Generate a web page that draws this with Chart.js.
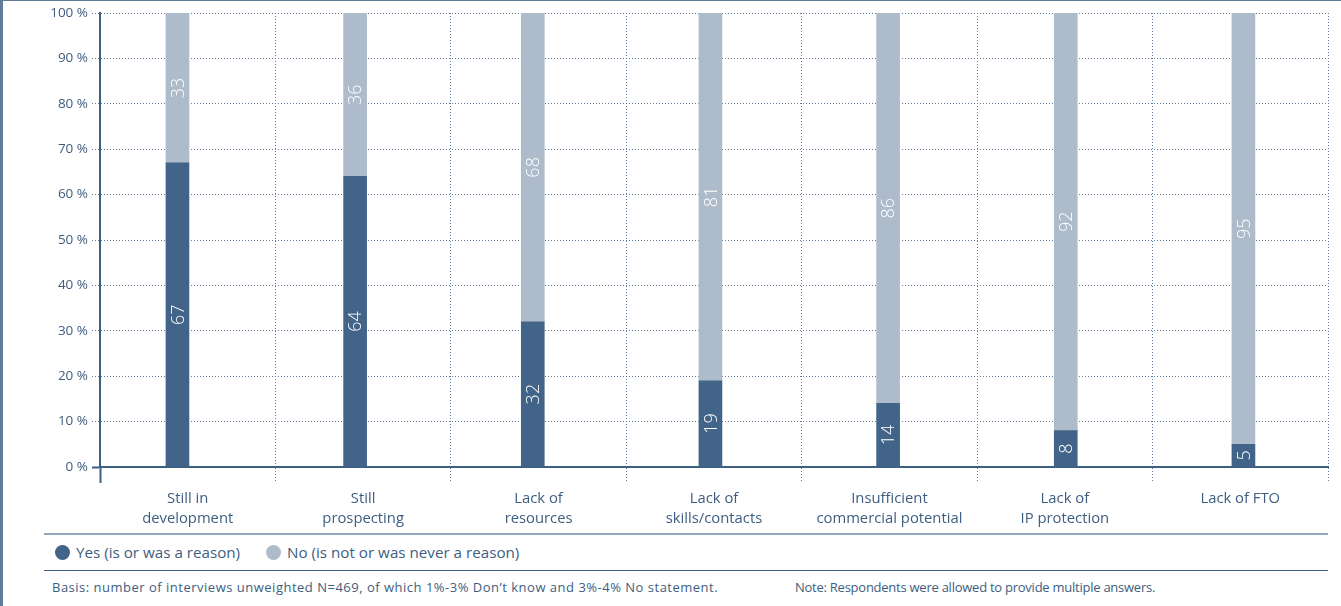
<!DOCTYPE html>
<html>
<head>
<meta charset="utf-8">
<script src="https://cdn.jsdelivr.net/npm/chart.js@4"></script>
<style>
    html, body { margin: 0; padding: 0; background: #fff; }
    #frame {
        position: relative;
        width: 1341px;
        height: 606px;
        box-sizing: border-box;
        border-top: 1px solid #5f7d9b;
        border-left: 3px solid #5f7d9b;
        font-family: 'Open Sans', Lato, sans-serif;
        color: #3e5e80;
        overflow: hidden;
    }
    #chartBox {
        position: absolute;
        left: -3px;
        top: -1px;
        width: 1341px;
        height: 530px;
    }
    #legend {
        position: absolute;
        left: 41px;
        top: 532px;
        width: 1284px;
        height: 35px;
        border-top: 2px solid #93a6ba;
        border-bottom: 1px solid #3e5e80;
        font-size: 15.2px;
    }
    .legend-item { position: absolute; top: 7px; display: flex; align-items: center; white-space: nowrap; }
    .legend-dot { width: 15px; height: 15px; border-radius: 50%; margin-right: 6px; }
    .note {
        position: absolute;
        top: 577px;
        font-size: 13px;
        white-space: nowrap;
    }
</style>
</head>
<body>
<div id="frame">
    <div id="chartBox"><canvas id="reasonsChart"></canvas></div>
    <div id="legend"></div>
    <div class="note" style="left:49px; letter-spacing:0.5px">Basis: number of interviews unweighted N=469, of which 1%-3% Don’t know and 3%-4% No statement.</div>
    <div class="note" style="left:792px; letter-spacing:-0.25px">Note: Respondents were allowed to provide multiple answers.</div>
</div>
<script>
// Reasons - shares in percent
const categories = [
    ['Still in', 'development'],
    ['Still', 'prospecting'],
    ['Lack of', 'resources'],
    ['Lack of', 'skills/contacts'],
    ['Insufficient', 'commercial potential'],
    ['Lack of', 'IP protection'],
    'Lack of FTO'
];
const yesValues = [67, 64, 32, 19, 14, 8, 5];
const noValues = [33, 36, 68, 81, 86, 92, 95];
const yTicks = [0, 10, 20, 30, 40, 50, 60, 70, 80, 90, 100];

const seriesNames = ['Yes (is or was a reason)', 'No (is not or was never a reason)'];
const seriesColors = ['#426488', '#aebbcb'];

const textColor = '#3e5e80';
const axisColor = '#3d5f82';
const dotColor = '#5f7d9b';

// white rotated numbers centred inside each segment
const valueLabels = {
    id: 'valueLabels',
    afterDatasetsDraw(chart) {
        const ctx = chart.ctx;
        ctx.save();
        ctx.fillStyle = '#ffffff';
        ctx.font = '300 18px "Open Sans", sans-serif';
        ctx.textAlign = 'center';
        ctx.textBaseline = 'middle';
        chart.data.datasets.forEach((ds, i) => {
            chart.getDatasetMeta(i).data.forEach((bar, j) => {
                const p = bar.getProps(['x', 'y', 'base'], true);
                ctx.save();
                ctx.translate(p.x, (p.y + p.base) / 2);
                ctx.rotate(-Math.PI / 2);
                ctx.fillText(String(ds.data[j].y), 0, 1);
                ctx.restore();
            });
        });
        ctx.restore();
    }
};

function toPoints(values) {
    return values.map((v, i) => ({ x: i, y: v }));
}

const ctx = document.getElementById('reasonsChart');

new Chart(ctx, {
    type: 'bar',
    data: {
        datasets: [{
            label: seriesNames[0],
            data: toPoints(yesValues),
            backgroundColor: seriesColors[0],
            xAxisID: 'xBar',
            barThickness: 23
        }, {
            label: seriesNames[1],
            data: toPoints(noValues),
            backgroundColor: seriesColors[1],
            xAxisID: 'xBar',
            barThickness: 23
        }]
    },
    options: {
        responsive: true,
        maintainAspectRatio: false,
        animation: false,
        layout: {
            padding: { top: 13, right: 13, left: 0, bottom: 0 }
        },
        plugins: {
            legend: { display: false },
            tooltip: { enabled: false }
        },
        scales: {
            x: {
                type: 'category',
                labels: categories,
                offset: true,
                afterFit: scale => { scale.height = 63; },
                grid: {
                    offset: true,
                    color: dotColor,
                    lineWidth: 1,
                    tickLength: 16,
                    tickColor: c => c.index === 0 ? axisColor : dotColor,
                    tickWidth: c => c.index === 0 ? 2 : 1,
                    tickBorderDash: c => c.index === 0 ? [] : [1, 2]
                },
                border: {
                    display: true,
                    color: axisColor,
                    width: 2,
                    dash: [1, 2]
                },
                ticks: {
                    color: textColor,
                    font: { family: 'Open Sans', size: 14.8, lineHeight: 1.36 },
                    padding: 6,
                    maxRotation: 0,
                    autoSkip: false
                }
            },
            xBar: {
                type: 'linear',
                display: false,
                offset: false,
                grid: { offset: false },
                min: -0.436,
                max: 6.476,
                stacked: true
            },
            y: {
                stacked: true,
                min: 0,
                max: 100,
                afterFit: scale => { scale.width = 100; },
                afterBuildTicks: scale => {
                    scale.ticks = yTicks.map(v => ({ value: v }));
                },
                grid: {
                    color: c => c.tick && c.tick.value === 0 ? axisColor : dotColor,
                    lineWidth: 1,
                    tickLength: 8,
                    tickColor: c => c.tick && c.tick.value === 0 ? axisColor : dotColor,
                    tickWidth: c => c.tick && c.tick.value === 0 ? 2 : 1,
                    tickBorderDash: c => c.tick && c.tick.value === 0 ? [] : [1, 2]
                },
                border: {
                    display: true,
                    color: axisColor,
                    width: 2,
                    dash: c => c.tick && c.tick.value === 0 ? [] : [1, 2]
                },
                ticks: {
                    color: textColor,
                    font: { family: 'Open Sans', size: 13.5 },
                    padding: 4,
                    callback: v => v + ' %'
                }
            }
        }
    },
    plugins: [valueLabels]
});

// HTML legend built from the series
const legendEl = document.getElementById('legend');
const legendLeft = [11, 222];
seriesNames.forEach((name, i) => {
    const item = document.createElement('div');
    item.className = 'legend-item';
    item.style.left = legendLeft[i] + 'px';
    const dot = document.createElement('span');
    dot.className = 'legend-dot';
    dot.style.background = seriesColors[i];
    const txt = document.createElement('span');
    txt.textContent = name;
    item.appendChild(dot);
    item.appendChild(txt);
    legendEl.appendChild(item);
});
</script>
</body>
</html>
